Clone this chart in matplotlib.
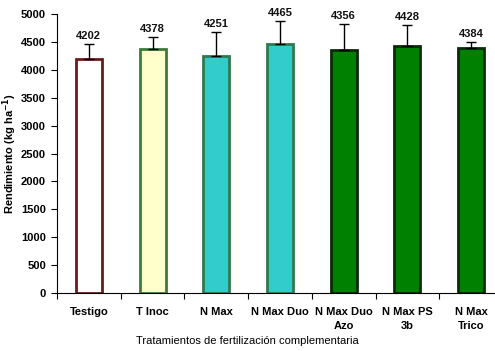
import matplotlib.pyplot as plt
import numpy as np

plt.rcParams['font.family'] = ['Liberation Sans', 'DejaVu Sans']

categories = ["Testigo", "T Inoc", "N Max", "N Max Duo", "N Max Duo\nAzo", "N Max PS\n3b", "N Max\nTrico"]
yields = [4202, 4378, 4251, 4465, 4356, 4428, 4384]
errors = [260, 205, 420, 405, 460, 370, 110]
fills = ["#FFFFFF", "#FFFFCC", "#33CCCC", "#33CCCC", "#008000", "#008000", "#008000"]
edges = ["#6B1A1A", "#3E7A3A", "#2E7A50", "#2E7A50", "#0A2A0A", "#0A2A0A", "#0A2A0A"]

fig = plt.figure(figsize=(4.95, 3.51), dpi=100)
ax = fig.add_axes([57 / 495, 58 / 351, 446 / 495, 279 / 351])

x = np.arange(len(categories)) + 0.5
ax.bar(x, yields, width=0.41, color=fills, edgecolor=edges, linewidth=2, zorder=2)
ax.errorbar(x, yields, yerr=[np.zeros(len(errors)), errors], fmt="none",
            ecolor="black", elinewidth=1, capsize=3.5, capthick=1, zorder=3)

for xi, v, e in zip(x, yields, errors):
    ax.text(xi, v + e + 60, str(v), ha="center", va="bottom",
            fontsize=8, fontweight="bold", color="#111111")

ax.set_xlim(0, len(categories))
ax.set_ylim(0, 5000)
ax.set_yticks(np.arange(0, 5001, 500))
ax.set_xticks(np.arange(0, len(categories) + 1))
ax.set_xticklabels([])
ax.set_xticks(x, minor=True)
ax.set_xticklabels(categories, minor=True, fontsize=8, fontweight="bold", linespacing=1.55)
ax.tick_params(axis="x", which="minor", length=0, pad=10)
ax.tick_params(axis="x", which="major", length=4, direction="out")
ax.tick_params(axis="y", length=4, direction="out", labelsize=8, pad=4)
for lab in ax.get_yticklabels():
    lab.set_fontweight("bold")

ax.spines["top"].set_visible(False)
ax.spines["right"].set_visible(False)

ax.set_ylabel("Rendimiento (kg ha$^{\\mathbf{-1}}$)", fontsize=8, fontweight="bold", labelpad=1)
fig.text(0.5, 1 - 341 / 351, "Tratamientos de fertilización complementaria", ha="center",
         va="center", fontsize=8)

fig.savefig("out.png", dpi=100)
